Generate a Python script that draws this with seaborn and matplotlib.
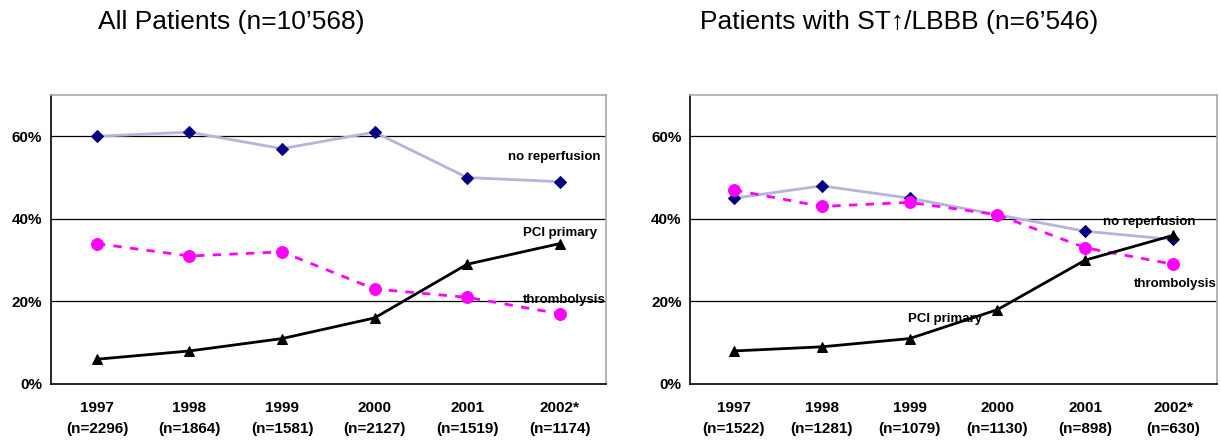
import pandas as pd
import numpy as np
import matplotlib
matplotlib.use("Agg")
import matplotlib.pyplot as plt
import seaborn as sns

# data
years = ["1997", "1998", "1999", "2000", "2001", "2002*"]
n_all = [2296, 1864, 1581, 2127, 1519, 1174]
n_st = [1522, 1281, 1079, 1130, 898, 630]

all_noreperf = [60, 61, 57, 61, 50, 49]
all_thromb = [34, 31, 32, 23, 21, 17]
all_pci = [6, 8, 11, 16, 29, 34]

st_noreperf = [45, 48, 45, 41, 37, 35]
st_thromb = [47, 43, 44, 41, 33, 29]
st_pci = [8, 9, 11, 18, 30, 36]

titles = ["All Patients (n=10\u2019568)", "Patients with ST\u2191/LBBB (n=6\u2019546)"]

sns.set_style("white")
plt.rcParams["font.family"] = ["Liberation Sans", "DejaVu Sans"]
plt.rcParams["text.color"] = "black"
plt.rcParams["xtick.color"] = "black"
plt.rcParams["ytick.color"] = "black"

styles = {
    "no reperfusion": dict(color="#b4b4dc", marker="D", markersize=6,
                           markerfacecolor="#000080", markeredgecolor="#000080",
                           linestyle="-", lw=2),
    "thrombolysis": dict(color="#ff00ff", marker="o", markersize=8.5,
                         markerfacecolor="#ff00ff", markeredgecolor="#ff00ff",
                         linestyle=(0, (3, 3)), lw=2),
    "PCI primary": dict(color="black", marker="^", markersize=7.5,
                        markerfacecolor="black", markeredgecolor="black",
                        linestyle="-", lw=2),
}

fig = plt.figure(figsize=(12.21, 4.40), dpi=100)
ax1 = fig.add_axes([0.0415, 0.1273, 0.4548, 0.6568])
ax2 = fig.add_axes([0.5651, 0.1273, 0.4316, 0.6568])

panels = [
    (ax1, n_all, {"no reperfusion": all_noreperf, "thrombolysis": all_thromb, "PCI primary": all_pci}),
    (ax2, n_st, {"no reperfusion": st_noreperf, "thrombolysis": st_thromb, "PCI primary": st_pci}),
]

for ax, ns, series in panels:
    labels = [f"{y}\n(n={n})" for y, n in zip(years, ns)]
    for name, vals in series.items():
        df = pd.DataFrame({"year": labels, "pct": vals})
        sns.lineplot(data=df, x="year", y="pct", ax=ax, sort=False, **styles[name])
    ax.set_xlim(-0.5, 5.5)
    ax.set_ylim(0, 70)
    ax.set_yticks([0, 20, 40, 60])
    ax.set_yticklabels(["0%", "20%", "40%", "60%"], fontweight="bold", fontsize=11, color="black")
    ax.set_xticks(range(6))
    ax.set_xticklabels(labels, fontweight="bold", fontsize=11, linespacing=1.7, color="black")
    ax.set_xticks(np.arange(-0.5, 6, 1), minor=True)
    ax.tick_params(axis="x", which="major", length=0, pad=12)
    ax.tick_params(axis="x", which="minor", length=5, direction="out", color="black", width=1)
    ax.tick_params(axis="y", which="major", length=4, direction="out", color="black", width=1, pad=2)
    ax.set_xlabel("")
    ax.set_ylabel("")
    for y in [20, 40, 60]:
        ax.axhline(y, color="black", lw=0.9, zorder=0)
    for s in ["left", "bottom"]:
        ax.spines[s].set_color("black")
        ax.spines[s].set_linewidth(1.2)
    for s in ["top", "right"]:
        ax.spines[s].set_color("#a8a8a8")
        ax.spines[s].set_linewidth(1.2)
    if ax.get_legend():
        ax.get_legend().remove()

lab = dict(fontsize=9.5, fontweight="bold", ha="center", va="center",
           clip_on=False, color="black")
ax1.text(4.94, 55.1, "no reperfusion", **lab)
ax1.text(5.0, 36.6, "PCI primary", **lab)
ax1.text(5.05, 20.4, "thrombolysis", **lab)

ax2.text(4.73, 39.3, "no reperfusion", **lab)
ax2.text(5.02, 24.3, "thrombolysis", **lab)
ax2.text(2.40, 15.8, "PCI primary", **lab)

fig.text(98 / 1221, 1 - 22 / 440, titles[0], fontsize=19, ha="left", va="center", color="black")
fig.text(700 / 1221, 1 - 22 / 440, titles[1], fontsize=19, ha="left", va="center", color="black")

fig.savefig("out.png", dpi=100)
